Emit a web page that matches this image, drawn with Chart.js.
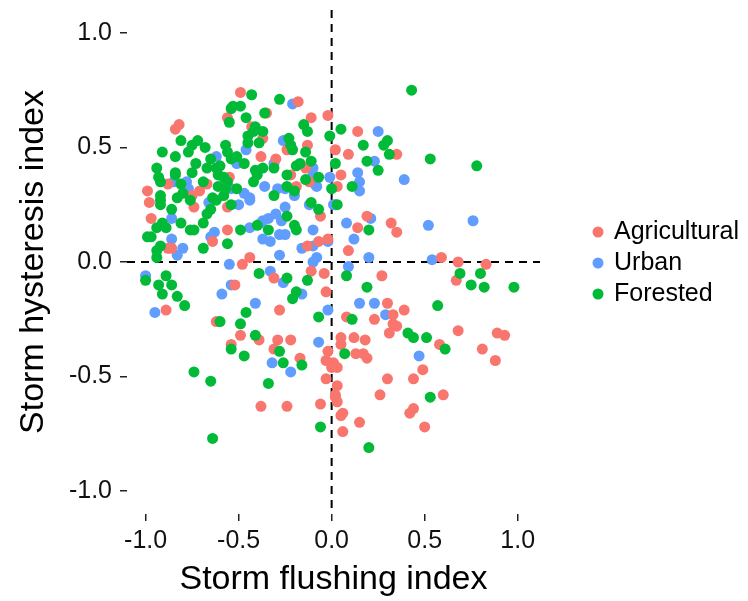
<!DOCTYPE html>
<html>
<head>
<meta charset="utf-8">
<title>Storm flushing vs hysteresis</title>
<script src="https://cdn.jsdelivr.net/npm/chart.js@4.4.1/dist/chart.umd.min.js"></script>
<style>
  html, body { margin: 0; padding: 0; background: #fff; }
</style>
</head>
<body>
<canvas id="graphCanvas" width="748" height="601"></canvas>
<script>
// storm events by land use: [flushing index, hysteresis index]
var agricultural = [
  [-0.82,0.60],[-0.84,0.58],[-0.56,0.63],[-0.88,0.34],[-0.71,0.31],[-0.67,0.34],[-0.55,0.37],[-0.99,0.31],[-0.75,0.29],
  [-0.49,0.74],[-0.18,0.70],[-0.35,0.65],[-0.11,0.63],[-0.02,0.64],[-0.43,0.59],[-0.37,0.54],[-0.24,0.49],[-0.13,0.51],
  [-0.38,0.46],[-0.30,0.45],[-0.14,0.41],[-0.22,0.38],[-0.12,0.35],[-0.19,0.33],
  [0.14,0.57],[0.02,0.49],[0.09,0.47],[0.35,0.47],[0.05,0.38],[0.03,0.33],
  [-0.98,0.26],[-0.74,0.24],[-0.56,0.24],[-0.97,0.19],[-0.56,0.14],[-0.64,0.09],[-0.88,0.06],[-0.86,0.06],[-0.89,-0.21],
  [-0.06,0.20],[-0.13,0.07],[-0.07,0.09],[-0.02,0.10],[-0.44,0.02],[-0.48,-0.01],[-0.31,-0.07],[-0.11,-0.04],[-0.04,-0.05],
  [-0.52,-0.10],[-0.03,-0.13],[-0.28,-0.21],
  [0.19,0.20],[0.14,0.15],[0.32,0.17],[0.35,0.13],[0.09,0.05],[0.27,-0.06],[0.30,-0.18],[0.33,-0.23],[0.39,-0.21],[0.08,-0.24],[0.23,-0.25],
  [0.59,0.02],[0.68,0.00],[0.83,-0.01],[0.67,-0.08],
  [-0.62,-0.26],[-0.54,-0.36],
  [-0.49,-0.32],[-0.39,-0.34],[-0.29,-0.34],[-0.22,-0.34],[-0.31,-0.38],[-0.17,-0.42],[-0.02,-0.39],[-0.03,-0.43],[0.00,-0.46],
  [0.01,-0.44],[-0.03,-0.51],[-0.38,-0.63],[-0.24,-0.63],[-0.06,-0.62],[0.02,-0.59],
  [0.33,-0.27],[0.35,-0.28],[0.31,-0.31],[0.05,-0.33],[0.05,-0.36],[0.12,-0.33],[0.18,-0.34],[0.13,-0.40],[0.17,-0.40],[0.19,-0.42],
  [0.03,-0.46],[0.49,-0.47],[0.30,-0.51],[0.44,-0.51],[0.03,-0.54],[0.02,-0.58],[0.03,-0.61],[0.26,-0.58],[0.44,-0.64],[0.42,-0.66],
  [0.06,-0.66],[0.05,-0.67],[0.15,-0.70],[0.50,-0.72],[0.06,-0.74],
  [0.68,-0.30],[0.89,-0.31],[0.93,-0.32],[0.58,-0.36],[0.81,-0.38],[0.88,-0.43],[0.60,-0.58]
];

var urban = [
  [-0.62,0.46],[-0.85,0.35],[-0.78,0.35],[-0.77,0.32],[-0.54,0.32],
  [-0.21,0.69],[-0.46,0.49],[-0.26,0.53],[-0.51,0.43],[-0.31,0.43],[-0.10,0.41],[-0.10,0.38],[-0.09,0.34],[-0.36,0.33],
  [-0.29,0.32],[-0.25,0.32],[-0.08,0.33],[-0.01,0.37],[-0.47,0.30],[-0.44,0.28],
  [0.25,0.57],[0.23,0.44],[0.14,0.39],[0.15,0.35],[0.15,0.31],[0.39,0.36],
  [-0.66,0.26],[-0.86,0.19],[-0.65,0.11],[-0.63,0.13],[-0.86,0.10],[-0.80,0.06],[-0.83,0.03],[-0.55,-0.01],[-1.00,-0.06],
  [-0.59,-0.14],[-0.95,-0.22],[-0.54,-0.10],
  [-0.50,0.25],[-0.44,0.27],[-0.20,0.29],[-0.12,0.25],[0.01,0.25],[-0.25,0.24],[-0.30,0.21],[-0.34,0.19],[-0.37,0.18],
  [-0.38,0.17],[-0.44,0.15],[-0.27,0.18],[-0.25,0.12],[-0.28,0.12],[-0.37,0.10],[-0.33,0.09],[-0.10,0.14],[-0.16,0.06],
  [-0.10,0.07],[-0.02,0.09],[-0.28,0.03],[-0.08,0.02],[-0.10,0.00],[-0.33,-0.04],[-0.26,-0.09],[-0.16,-0.14],[-0.41,-0.18],[-0.02,-0.21],
  [0.02,0.25],[0.21,0.19],[0.08,0.17],[0.52,0.16],[0.12,0.10],[0.20,0.02],[0.09,-0.02],[0.54,0.01],[0.15,-0.18],[0.23,-0.18],[0.29,-0.23],
  [0.76,0.18],
  [-0.32,-0.44],[-0.22,-0.48],[-0.07,-0.35],
  [0.47,-0.41]
];

var forested = [
  [-0.54,0.67],[-0.55,0.61],[-0.81,0.53],[-0.75,0.51],[-0.72,0.53],[-0.91,0.48],[-0.77,0.48],[-0.68,0.50],[-0.84,0.46],
  [-0.65,0.45],[-0.57,0.51],[-0.56,0.48],[-0.54,0.45],[-0.73,0.43],[-0.94,0.41],[-0.84,0.39],[-0.84,0.38],[-0.75,0.39],
  [-0.67,0.41],[-0.62,0.41],[-0.60,0.42],[-0.61,0.38],[-0.58,0.37],[-0.56,0.35],[-0.93,0.37],[-0.92,0.35],[-0.81,0.34],
  [-0.69,0.35],[-0.61,0.33],[-0.57,0.32],[-0.92,0.29],[-0.80,0.30],[-0.83,0.28],[-0.64,0.28],[-0.58,0.29],
  [-0.43,0.73],[-0.28,0.71],[-0.53,0.68],[-0.49,0.68],[-0.36,0.65],[-0.46,0.63],[-0.41,0.59],[-0.37,0.57],[-0.42,0.57],
  [-0.15,0.60],[-0.13,0.57],[-0.01,0.55],[-0.45,0.55],[-0.39,0.52],[-0.45,0.52],[-0.23,0.54],[-0.22,0.51],[-0.21,0.49],
  [-0.14,0.48],[-0.11,0.44],[-0.51,0.46],[-0.47,0.43],[-0.31,0.41],[-0.37,0.41],[-0.41,0.40],[-0.40,0.38],[-0.42,0.35],
  [-0.19,0.42],[-0.17,0.43],[-0.24,0.38],[-0.14,0.36],[-0.07,0.37],[-0.24,0.33],[-0.20,0.31],[0.00,0.32],[-0.51,0.32],[-0.31,0.29],
  [0.43,0.75],[0.05,0.58],[0.17,0.51],[0.30,0.53],[0.28,0.51],[0.31,0.47],[0.53,0.45],[0.02,0.43],[0.19,0.44],[0.25,0.40],[0.11,0.33],
  [0.78,0.42],
  [-0.92,0.27],[-0.92,0.25],[-0.76,0.27],[-0.62,0.27],[-0.54,0.25],[-0.86,0.23],[-0.65,0.23],[-0.67,0.21],[-0.81,0.17],
  [-0.91,0.17],[-0.94,0.15],[-0.89,0.15],[-0.76,0.14],[-0.74,0.14],[-0.69,0.17],[-0.56,0.08],[-0.99,0.11],[-0.97,0.11],
  [-0.92,0.07],[-0.94,0.05],[-0.94,0.02],[-0.69,0.06],[-1.00,-0.08],[-0.89,-0.06],[-0.93,-0.10],[-0.86,-0.10],[-0.91,-0.14],
  [-0.83,-0.15],[-0.79,-0.19],
  [-0.11,0.26],[-0.07,0.23],[-0.24,0.20],[-0.40,0.16],[-0.34,0.14],[-0.49,0.14],[-0.20,0.16],[-0.19,0.14],[-0.39,-0.05],
  [-0.24,-0.07],[-0.13,-0.08],[-0.19,-0.13],[-0.21,-0.16],[-0.46,-0.22],[-0.07,-0.24],
  [0.03,0.25],[0.20,0.14],[0.08,-0.06],[0.19,-0.11],[0.11,-0.25],[0.57,-0.19],
  [0.69,-0.05],[0.80,-0.05],[0.75,-0.10],[0.82,-0.11],[0.98,-0.11],
  [-0.60,-0.26],[-0.54,-0.38],[-0.74,-0.48],[-0.65,-0.52],[-0.64,-0.77],
  [-0.49,-0.27],[-0.41,-0.32],[-0.47,-0.41],[-0.28,-0.39],[-0.26,-0.44],[-0.16,-0.45],[-0.34,-0.53],[-0.06,-0.72],
  [0.41,-0.31],[0.44,-0.33],[0.51,-0.33],[0.07,-0.40],[0.53,-0.59],[0.20,-0.81],
  [0.61,-0.38]
];

var landUse = ['Agricultural', 'Urban', 'Forested'];
var landColors = ['#F8766D', '#619CFF', '#00BA38'];
var xTicks = [-1.0, -0.5, 0.0, 0.5, 1.0];
var yTicks = [-1.0, -0.5, 0.0, 0.5, 1.0];

var FONT = '"Liberation Sans", Arial, Helvetica, sans-serif';

function toPoints(arr) {
  return arr.map(function (p) { return { x: p[0], y: p[1] }; });
}

// dashed reference lines through the origin, under the points
var zeroLines = {
  id: 'zeroLines',
  beforeDatasetsDraw: function (chart) {
    var ctx = chart.ctx;
    var a = chart.chartArea;
    var x0 = chart.scales.x.getPixelForValue(0);
    var y0 = chart.scales.y.getPixelForValue(0);
    ctx.save();
    ctx.strokeStyle = '#000';
    ctx.lineWidth = 2;
    ctx.setLineDash([8, 6]);
    ctx.beginPath();
    ctx.moveTo(a.left, y0);
    ctx.lineTo(a.right, y0);
    ctx.moveTo(x0, a.top);
    ctx.lineTo(x0, a.bottom);
    ctx.stroke();
    ctx.restore();
  }
};

// simple key on the right, dots + labels
var sideLegend = {
  id: 'sideLegend',
  afterDraw: function (chart) {
    var ctx = chart.ctx;
    ctx.save();
    chart.data.datasets.forEach(function (ds, i) {
      var y = 232 + i * 31;
      ctx.fillStyle = ds.backgroundColor;
      ctx.beginPath();
      ctx.arc(598, y, 5.5, 0, 2 * Math.PI);
      ctx.fill();
      ctx.fillStyle = '#000';
      ctx.font = '25px ' + FONT;
      ctx.textBaseline = 'middle';
      ctx.textAlign = 'left';
      ctx.fillText(ds.label, 614, y);
    });
    ctx.restore();
  }
};

var series = [agricultural, urban, forested];
var drawOrder = [2, 3, 1];

var chartdata = {
  datasets: series.map(function (s, i) {
    return {
      label: landUse[i],
      data: toPoints(s),
      backgroundColor: landColors[i],
      borderWidth: 0,
      pointRadius: 5.5,
      pointHoverRadius: 5.5,
      order: drawOrder[i]
    };
  })
};

var graphTarget = document.getElementById('graphCanvas');

var scatterChart = new Chart(graphTarget, {
  type: 'scatter',
  data: chartdata,
  plugins: [zeroLines, sideLegend],
  options: {
    responsive: false,
    animation: false,
    events: [],
    layout: { padding: { left: 0, right: 208, top: 10, bottom: 0 } },
    plugins: {
      legend: { display: false },
      tooltip: { enabled: false }
    },
    scales: {
      x: {
        type: 'linear',
        min: -1.1,
        max: 1.12,
        afterFit: function (s) { s.height = 87; s.paddingLeft = 0; s.paddingRight = 0; },
        afterBuildTicks: function (s) { s.ticks = xTicks.map(function (v) { return { value: v }; }); },
        border: { display: false },
        grid: { drawOnChartArea: false, drawTicks: true, tickLength: 7, tickColor: '#222', lineWidth: 1.5 },
        ticks: {
          padding: 5,
          color: '#111',
          font: { family: FONT, size: 25 },
          maxRotation: 0,
          callback: function (v) { return v.toFixed(1); }
        },
        title: {
          display: true,
          text: 'Storm flushing index',
          color: '#000',
          font: { family: FONT, size: 34 },
          padding: { top: 0, bottom: 1 }
        }
      },
      y: {
        type: 'linear',
        min: -1.1,
        max: 1.1,
        afterFit: function (s) { s.width = 127; s.paddingTop = 0; s.paddingBottom = 0; },
        afterBuildTicks: function (s) { s.ticks = yTicks.map(function (v) { return { value: v }; }); },
        border: { display: false },
        grid: { drawOnChartArea: false, drawTicks: true, tickLength: 7, tickColor: '#222', lineWidth: 1.5 },
        ticks: {
          padding: 8,
          color: '#111',
          font: { family: FONT, size: 25 },
          callback: function (v) { return v.toFixed(1); }
        },
        title: {
          display: true,
          text: 'Storm hysteresis index',
          color: '#000',
          font: { family: FONT, size: 34 },
          padding: { top: 13, bottom: 0 }
        }
      }
    }
  }
});
</script>
</body>
</html>
